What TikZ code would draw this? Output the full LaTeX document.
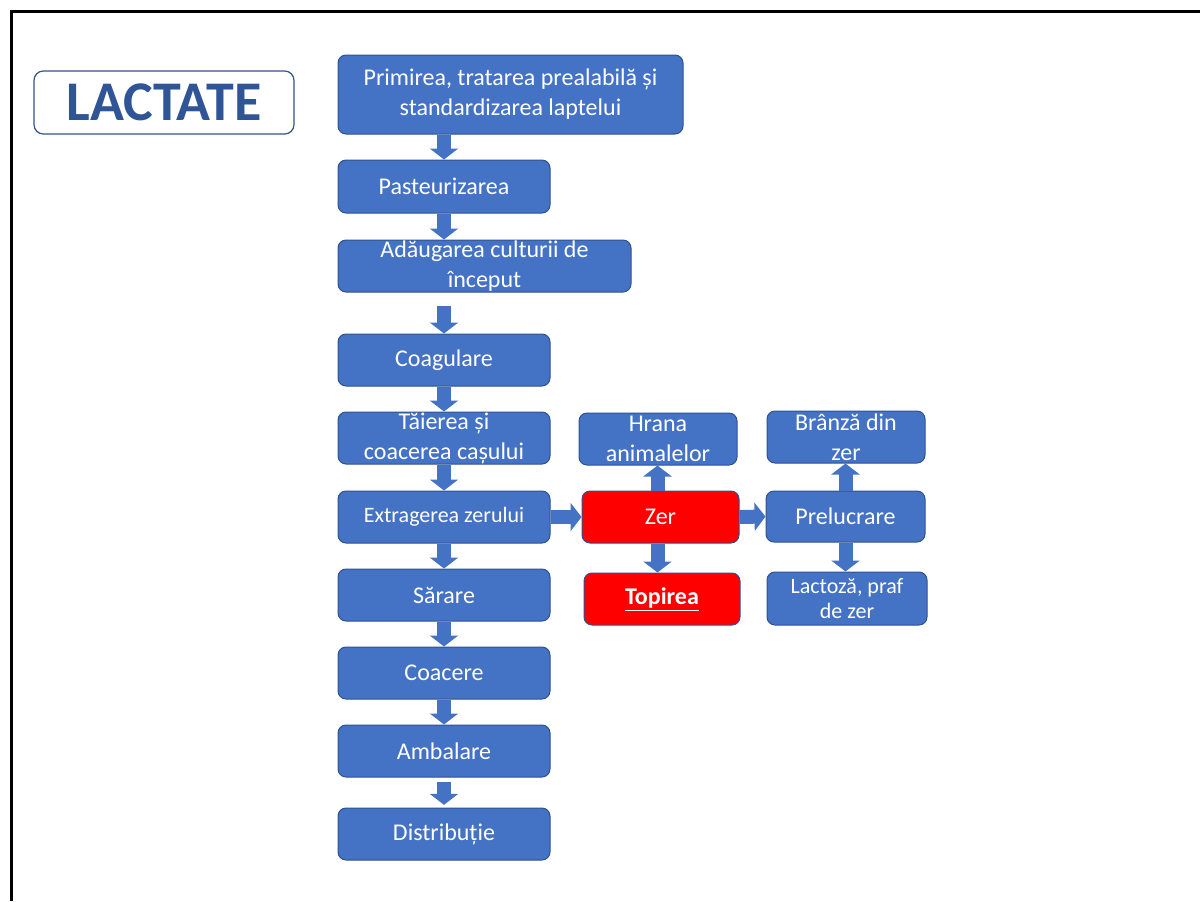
\documentclass[tikz,border=0pt]{standalone}
\usepackage{fontspec}
\setmainfont{Carlito}
\usepackage{xcolor}
\usepackage{tikz}
\usetikzlibrary{arrows.meta}

\definecolor{boxblue}{HTML}{4472C4}
\definecolor{edgeblue}{HTML}{2F528F}
\definecolor{titleblue}{HTML}{2F5597}

\begin{document}
\begin{tikzpicture}[x=0.75pt,y=0.75pt,yscale=-1,xscale=1,
  stepbox/.style={draw=edgeblue, line width=0.75pt, fill=boxblue, rounded corners=6pt,
    text=white, align=center, inner sep=0pt, font=\fontsize{18}{22.5}\selectfont},
  redbox/.style={stepbox, fill=red},
  smalltext/.style={font=\fontsize{16.5}{18.75}\selectfont},
  fatarrow/.style={draw=boxblue, line width=10.5pt,
    -{Triangle[length=8.25pt,width=21pt]}}]
\useasboundingbox (0,0) rectangle (1200,901);

%frame
\draw [line width=2.25pt] (11,901) -- (11,11) -- (1200,11) ;

%title
\node [draw=edgeblue, line width=0.9pt, rounded corners=7pt, minimum width=195pt, minimum height=47.25pt,
  text=titleblue, font=\fontsize{42}{44}\bfseries\selectfont] (title) at (164,102.5) {LACTATE};

%main column
\node [stepbox, minimum width=258.75pt, minimum height=59.25pt] (prim) at (510.5,94.5) {Primirea, tratarea prealabilă și\\standardizarea laptelui};
\node [stepbox, minimum width=159pt, minimum height=39.75pt] (past) at (444,186.5) {Pasteurizarea};
\node [stepbox, minimum width=219.75pt, minimum height=39pt] (adaug) at (484.5,266) {Adăugarea culturii de\\început};
\node [stepbox, minimum width=159pt, minimum height=39pt] (coag) at (444,360) {Coagulare};
\node [stepbox, minimum width=159pt, minimum height=39pt] (taiere) at (444,438) {Tăierea și\\coacerea cașului};
\node [stepbox, smalltext, minimum width=159pt, minimum height=39pt] (extrag) at (444,517) {Extragerea zerului};
\node [stepbox, minimum width=159pt, minimum height=39pt] (sarare) at (444,595) {Sărare};
\node [stepbox, minimum width=159pt, minimum height=39pt] (coacere) at (444,673) {Coacere};
\node [stepbox, minimum width=159pt, minimum height=39pt] (ambal) at (444,751) {Ambalare};
\node [stepbox, minimum width=159pt, minimum height=39pt] (distrib) at (444,834) {Distribuție};

%whey branch
\node [stepbox, minimum width=118.5pt, minimum height=39pt] (hrana) at (658,439) {Hrana\\animalelor};
\node [redbox, minimum width=117.75pt, minimum height=39pt] (zer) at (660.5,517) {Zer};
\node [redbox, minimum width=117pt, minimum height=39pt] (topire) at (662,599) {\underline{\textbf{Topirea}}};
\node [stepbox, minimum width=118.5pt, minimum height=39pt] (branza) at (846,437) {Brânză din\\zer};
\node [stepbox, minimum width=119.25pt, minimum height=38.25pt] (prel) at (845.5,516.5) {Prelucrare};
\node [stepbox, smalltext, minimum width=120pt, minimum height=39.75pt] (lactoza) at (847,598.5) {Lactoză, praf\\de zer};

%arrows
\draw [fatarrow] (prim.south -| past.north) -- (past.north);
\draw [fatarrow] (past.south) -- (adaug.north -| past.south);
\draw [fatarrow, shorten <=9.75pt] (adaug.south -| coag.north) -- (coag.north);
\draw [fatarrow] (coag.south) -- (taiere.north);
\draw [fatarrow] (taiere.south) -- (extrag.north);
\draw [fatarrow] (extrag.south) -- (sarare.north);
\draw [fatarrow] (sarare.south) -- (coacere.north);
\draw [fatarrow] (coacere.south) -- (ambal.north);
\draw [fatarrow, shorten <=3pt, shorten >=2pt] (ambal.south) -- (distrib.north);
\draw [fatarrow] (extrag.east) -- (zer.west);
\draw [fatarrow] (zer.east) -- (prel.west);
\draw [fatarrow] ([xshift=-2.25pt]zer.north) -- ([xshift=-2.25pt]zer.north |- hrana.south);
\draw [fatarrow] ([xshift=-2.25pt]zer.south) -- ([xshift=-2.25pt]zer.south |- topire.north);
\draw [fatarrow] (prel.north) -- (prel.north |- branza.south);
\draw [fatarrow] (prel.south) -- (prel.south |- lactoza.north);

\end{tikzpicture}
\end{document}
